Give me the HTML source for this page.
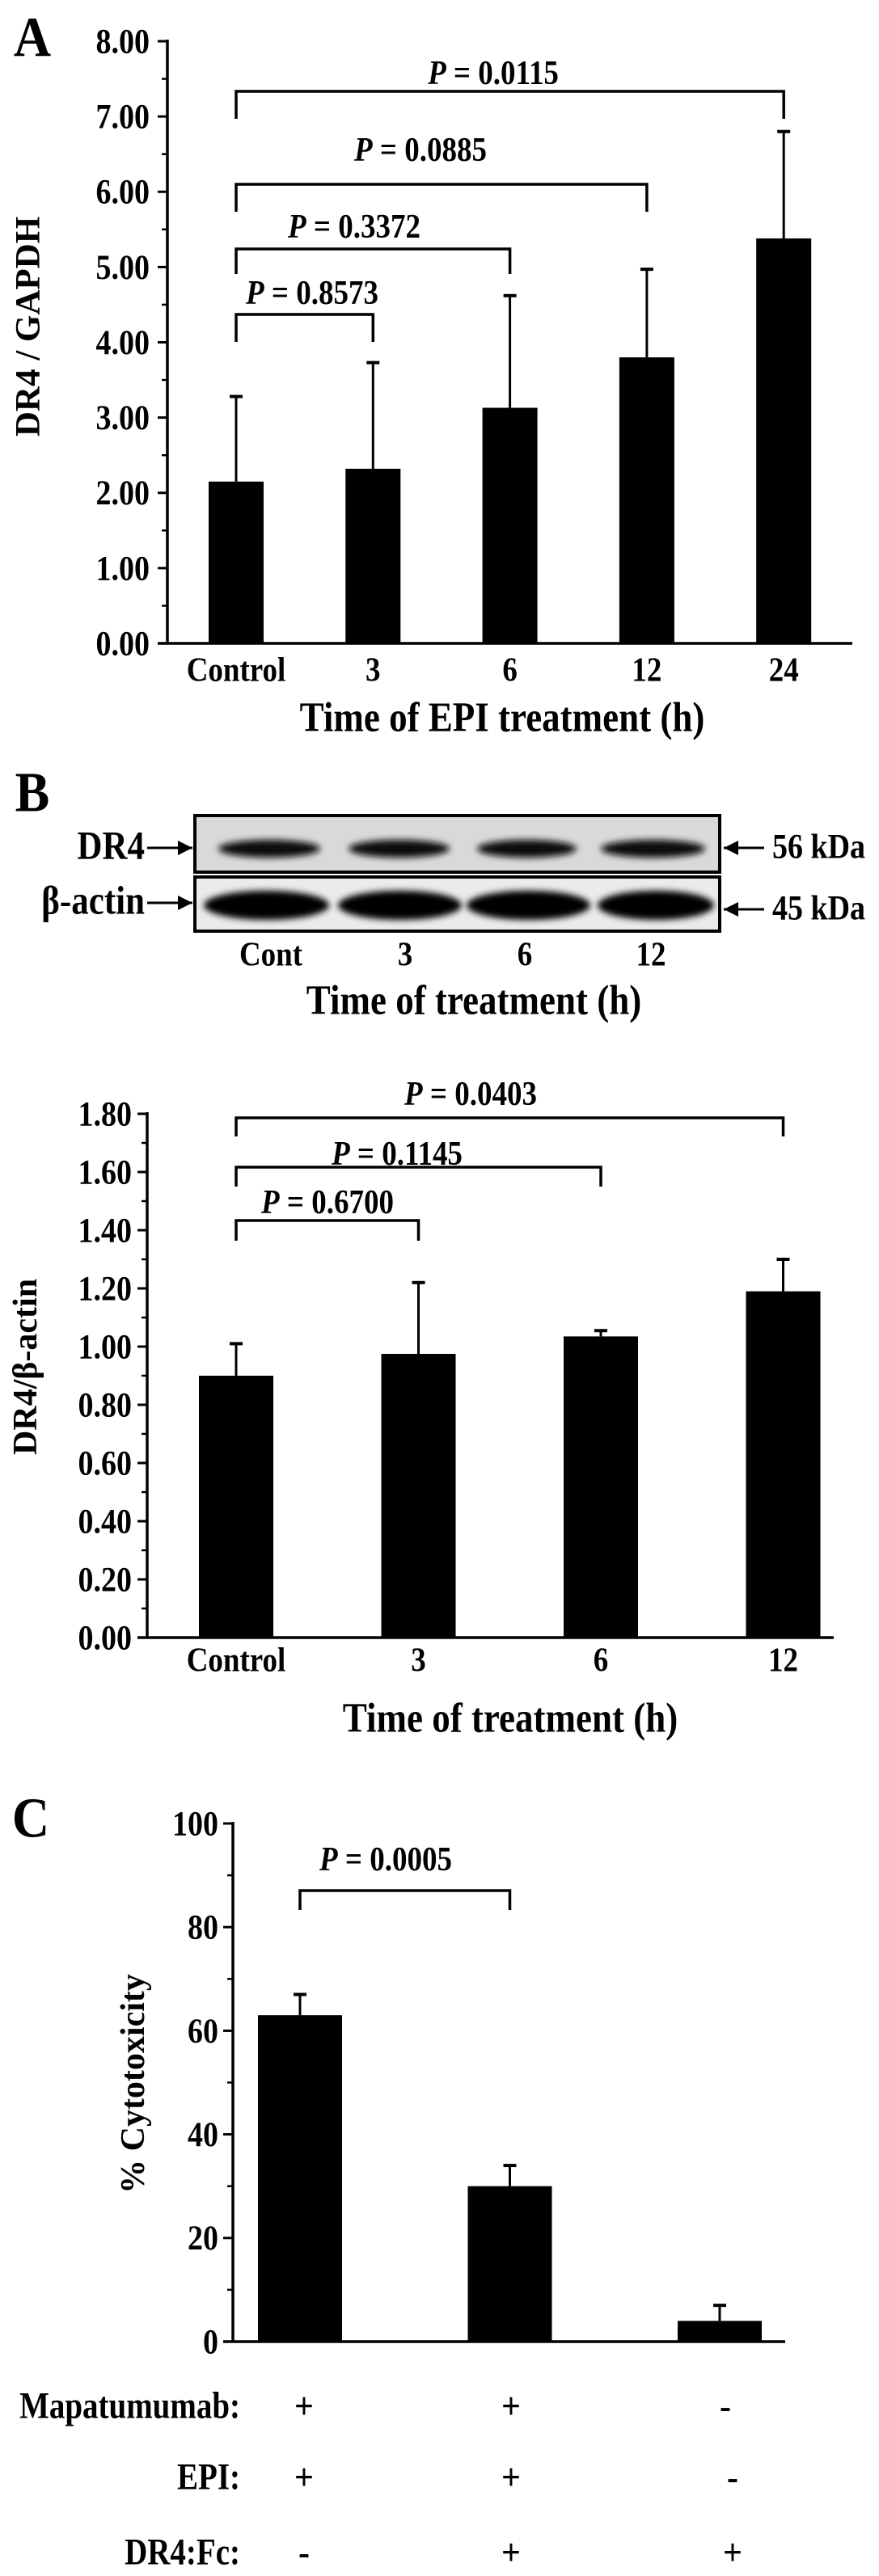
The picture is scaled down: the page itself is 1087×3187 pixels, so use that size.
<!DOCTYPE html>
<html><head><meta charset="utf-8"><style>
html,body{margin:0;padding:0;background:#fff;}
svg{display:block;}
text{font-family:"Liberation Serif",serif;font-weight:bold;fill:#000;}
</style></head><body>
<svg id="fig" width="1087" height="3187" viewBox="0 0 1087 3187" xmlns="http://www.w3.org/2000/svg">
<defs><filter id="blur" x="-20%" y="-50%" width="140%" height="200%"><feGaussianBlur stdDeviation="4"/></filter></defs>
<g id="blot">
  <rect x="241" y="1009" width="649" height="70" fill="#d9d9d9" stroke="#000" stroke-width="4"/>
  <rect x="241" y="1085" width="649" height="67" fill="#ebebeb" stroke="#000" stroke-width="4"/>
</g>
<g id="plot"></g>
</svg>
<script>
// Panel A data
const catsA = ["Control","3","6","12","24"];
const valsA = [2.15, 2.32, 3.13, 3.80, 5.38];
const errA = [3.28, 3.73, 4.62, 4.97, 6.80];
const ticksA = ["0.00","1.00","2.00","3.00","4.00","5.00","6.00","7.00","8.00"];
const pA = [["P = 0.8573",0,1],["P = 0.3372",0,2],["P = 0.0885",0,3],["P = 0.0115",0,4]];
// Panel B data
const lanesB = ["Cont","3","6","12"];
const catsB = ["Control","3","6","12"];
const valsB = [0.90, 0.975, 1.035, 1.19];
const errB = [1.01, 1.22, 1.055, 1.30];
const ticksB = ["0.00","0.20","0.40","0.60","0.80","1.00","1.20","1.40","1.60","1.80"];
const pB = [["P = 0.6700",0,1],["P = 0.1145",0,2],["P = 0.0403",0,3]];
// Panel C data
const valsC = [63, 30, 4];
const errC = [67, 34, 7];
const ticksC = ["0","20","40","60","80","100"];
const pC = [["P = 0.0005",0,1]];
const rowsC = ["Mapatumumab:","EPI:","DR4:Fc:"];
const signsC = [["+","+","-"],["+","+","-"],["-","+","+"]];

const NS="http://www.w3.org/2000/svg";
const plot=document.getElementById('plot');
function el(tag,attrs,parent){const e=document.createElementNS(NS,tag);for(const k in attrs)e.setAttribute(k,attrs[k]);(parent||plot).appendChild(e);return e;}
function line(x1,y1,x2,y2,w){return el('line',{x1,y1,x2,y2,stroke:'#000','stroke-width':w||3});}
function txt(x,y,s,size,anchor,sy,rot){
  const g=el('g',{transform:`translate(${x},${y})`+(rot?` rotate(${rot})`:'')+` scale(1,${sy||1.15})`});
  const t=el('text',{x:0,y:0,'font-size':size,'text-anchor':anchor||'middle','dominant-baseline':'central'},g);
  if(s.startsWith('P = ')){const a=el('tspan',{'font-style':'italic'},t);a.textContent='P';const b=el('tspan',{},t);b.textContent=' = '+s.slice(4);}
  else t.textContent=s;
  return t;
}

function panel(cfg){
  const {x0,x1,y0,ymax,yTop,cx,bw,vals,errs,ticks,minor,cats,catY,brackets,labelX}=cfg;
  const ys=v=>y0-(v/ymax)*(y0-yTop);
  const ya=line(x0,yTop-2,x0,y0+1.5,3.5);
  
  
  const xa=line(x0-12,y0,x1,y0,3.5);
  
  
  const step=ymax/(ticks.length-1);
  ticks.forEach((t,i)=>{
    const y=ys(i*step);
    line(x0-12,y,x0,y,3);
    const tl=txt(labelX,y,t,cfg.tickSize||38,'end');
    
    
    if(i<ticks.length-1){for(let m=1;m<minor;m++){const ym=ys(i*step+m*step/minor);line(x0-7,ym,x0,ym,2.5);}}
  });
  vals.forEach((v,i)=>{
    const r=el('rect',{x:cx(i)-bw/2,y:ys(v),width:bw,height:y0-ys(v),fill:'#000'});
    
    
    const e=line(cx(i),ys(v),cx(i),ys(errs[i]),3);
    
    
    line(cx(i)-8,ys(errs[i]),cx(i)+8,ys(errs[i]),4);
    if(cats){const c=txt(cx(i),catY,cats[i],cfg.catSize||37,'middle');
      
      }
  });
  brackets.forEach((b,k)=>{
    const [s,a,c]=b; const [hy,dy,ty]=cfg.bpos[k];
    const xa2=cx(a), xb=cx(c);
    const p=el('path',{d:`M${xa2},${dy} V${hy} H${xb} V${dy}`,fill:'none',stroke:'#000','stroke-width':3.5});
    
    
    const tt=txt(cfg.ptx[k],ty,s,37,'middle');
    
    
  });
}

panel({name:'panel-a',x0:207,x1:1054,y0:796,ymax:8,yTop:51,cx:i=>292+i*169.3,bw:68,vals:valsA,errs:errA,
  ticks:ticksA,minor:2,cats:catsA,catY:828,brackets:pA,labelX:185,
  bpos:[[389,423,361],[308,339,279],[228,262,184],[113,147,89]],ptx:[386,438,520,610]});
panel({name:'panel-b',x0:182,x1:1031,y0:2026,ymax:1.8,yTop:1378,cx:i=>292+i*225.5,bw:92,vals:valsB,errs:errB,
  ticks:ticksB,minor:2,cats:catsB,catY:2053,brackets:pB,labelX:163,
  bpos:[[1510,1535,1486],[1444,1468,1426],[1383,1406,1352]],ptx:[405,491,582]});
panel({name:'panel-c',x0:288,x1:971,y0:2897,ymax:100,yTop:2256,cx:i=>371+i*259.5,bw:104,vals:valsC,errs:errC,
  ticks:ticksC,minor:2,cats:null,catY:0,brackets:pC,labelX:270,
  bpos:[[2339,2363,2299]],ptx:[477]});

[["A",40,46],["B",40,980],["C",38,2249]].forEach(([s,x,y])=>{const t=txt(x,y,s,64,'middle',1.1);
  
  });
let t;
t=txt(35,404,"DR4 / GAPDH",43,'middle',1.0,-90);


t=txt(621,888,"Time of  EPI treatment (h)",45,'middle');


t=txt(32,1691,"DR4/β-actin",42,'middle',1.0,-90);


t=txt(586,1238,"Time of treatment (h)",45,'middle');


t=txt(631,2126,"Time of treatment (h)",45,'middle');


t=txt(165,2578,"% Cytotoxicity",42,'middle',1.0,-90);



const blot=document.getElementById('blot');
const dr4Bands=[[266,400],[427,560],[586,717],[739,876]];
const actBands=[[250,409],[416,573],[575,732],[737,885]];
dr4Bands.forEach(([a,b])=>{const e=el('ellipse',{cx:(a+b)/2,cy:1050,rx:(b-a)/2-4,ry:11,fill:'#111',filter:'url(#blur)'},blot);
  
  });
actBands.forEach(([a,b])=>{const e=el('ellipse',{cx:(a+b)/2,cy:1120,rx:(b-a)/2-2,ry:18,fill:'#000',filter:'url(#blur)'},blot);
  
  });
function arrow(x1,x2,y){line(x1,y,x2,y,3);const d=x2>x1?1:-1;el('polygon',{points:`${x2},${y} ${x2-d*18},${y-9} ${x2-d*18},${y+9}`,fill:'#000'});}
arrow(182,238,1049); arrow(182,238,1117);
arrow(945,895,1049); arrow(945,895,1125);
t=txt(179,1047,"DR4",43,'end');


t=txt(179,1115,"β-actin",43,'end');


t=txt(955,1047,"56 kDa",38,'start');


t=txt(955,1123,"45 kDa",38,'start');


const laneX=[335,501,649,805];
lanesB.forEach((s,i)=>{const l=txt(laneX[i],1180,s,37,'middle');
  
  });

const rowY=[2977,3065,3158];
const colX=[[376,632,897],[376,632,906],[376,632,906]];
rowsC.forEach((r,i)=>{
  const l=txt(297,rowY[i],r,39,'end',1.2);
  
  
  signsC[i].forEach((s,j)=>{const sg=txt(colX[i][j],rowY[i],s,42,'middle',1.1);
    
    });
});
</script>
</body></html>
